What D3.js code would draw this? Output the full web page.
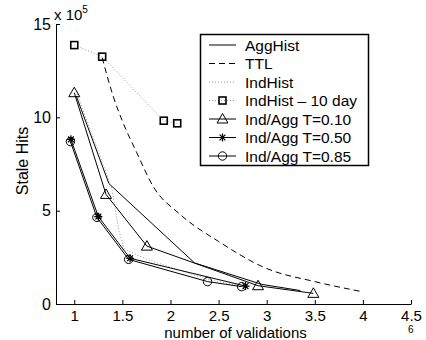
<!DOCTYPE html>
<html>
<head>
<meta charset="utf-8">
<script src="https://cdn.jsdelivr.net/npm/d3@7"></script>
<style>
  body { margin: 0; background: #fff; }
  svg text { font-family: "Liberation Sans", Arial, sans-serif; fill: #000; }
</style>
</head>
<body>
<div id="chart"></div>
<script>
// Stale hits vs number of validations
const xTicks = [1, 1.5, 2, 2.5, 3, 3.5, 4, 4.5];
const yTicks = [0, 5, 10, 15];

// values in units of 10^5
const aggHistX = [1.02, 1.36, 2.25, 2.95, 3.35];
const aggHistY = [11.15, 6.45, 2.2, 1.05, 0.72];

const ttlX = [1.29, 1.4, 1.5, 1.65, 1.82, 2.1, 2.5, 3.0, 3.5, 4.0];
const ttlY = [13.2, 11.2, 9.8, 8.1, 6.3, 4.8, 3.35, 1.9, 1.2, 0.65];

const indHistX = [1.02, 1.39, 1.46, 1.52, 1.75, 2.4, 2.75];
const indHistY = [11.4, 6.2, 4.0, 2.95, 2.4, 1.3, 0.95];

const ind10X = [1.0, 1.29, 1.93, 2.07];
const ind10Y = [13.87, 13.25, 9.82, 9.68];

const t10X = [1.0, 1.33, 1.755, 2.91, 3.485];
const t10Y = [11.32, 5.87, 3.1, 0.98, 0.57];

const t50X = [0.965, 1.25, 1.58, 2.78];
const t50Y = [8.82, 4.68, 2.45, 0.96];

const t85X = [0.96, 1.235, 1.565, 2.385, 2.74];
const t85Y = [8.7, 4.64, 2.39, 1.2, 0.93];

const series = [
  { name: "AggHist", xs: aggHistX, ys: aggHistY, color: "#000", dash: null, marker: null },
  { name: "TTL", xs: ttlX, ys: ttlY, color: "#000", dash: "6,4", marker: null, smooth: true },
  { name: "IndHist", xs: indHistX, ys: indHistY, color: "#999", dash: "1,2", marker: null },
  { name: "IndHist \u2013 10 day", xs: ind10X, ys: ind10Y, color: "#999", dash: "1,2", marker: "square" },
  { name: "Ind/Agg T=0.10", xs: t10X, ys: t10Y, color: "#000", dash: null, marker: "triangle" },
  { name: "Ind/Agg T=0.50", xs: t50X, ys: t50Y, color: "#000", dash: null, marker: "star" },
  { name: "Ind/Agg T=0.85", xs: t85X, ys: t85Y, color: "#000", dash: null, marker: "circle" }
];

const width = 426, height = 340;
const svg = d3.select("#chart").append("svg")
  .attr("width", width).attr("height", height);

const x = d3.scaleLinear().domain([0.81, 4.5]).range([56, 411]);
const y = d3.scaleLinear().domain([0, 15]).range([304, 24]);

// axes
const xAxis = svg.append("g")
  .attr("transform", `translate(0,${y(0)})`)
  .call(d3.axisBottom(x).tickValues(xTicks).tickFormat(d => String(d))
    .tickSizeInner(-4).tickSizeOuter(0).tickPadding(6));
const yAxis = svg.append("g")
  .attr("transform", `translate(${x(0.81)},0)`)
  .call(d3.axisLeft(y).tickValues(yTicks).tickFormat(d => String(d))
    .tickSizeInner(-4).tickSizeOuter(0).tickPadding(5));
[xAxis, yAxis].forEach(a => {
  a.selectAll("text").style("font-size", "15px").attr("fill", "#000");
  a.selectAll("line, path").attr("stroke", "#000");
  a.attr("font-family", null);
});
yAxis.selectAll("text").style("font-size", "16px");

// markers
function drawMarker(g, type, cx, cy) {
  if (type === "square") {
    g.append("rect").attr("x", cx - 3.5).attr("y", cy - 3.5)
      .attr("width", 7).attr("height", 7)
      .attr("fill", "none").attr("stroke", "#000").attr("stroke-width", 1.6);
  } else if (type === "triangle") {
    g.append("path").attr("d", `M${cx},${cy - 5.5}L${cx + 5.5},${cy + 4}L${cx - 5.5},${cy + 4}Z`)
      .attr("fill", "none").attr("stroke", "#000").attr("stroke-width", 1);
  } else if (type === "circle") {
    g.append("circle").attr("cx", cx).attr("cy", cy).attr("r", 4.2)
      .attr("fill", "none").attr("stroke", "#000").attr("stroke-width", 1);
  } else if (type === "star") {
    const r = 4, d = 2.9;
    g.append("path")
      .attr("d", `M${cx - r},${cy}L${cx + r},${cy}M${cx},${cy - r}L${cx},${cy + r}` +
        `M${cx - d},${cy - d}L${cx + d},${cy + d}M${cx - d},${cy + d}L${cx + d},${cy - d}`)
      .attr("stroke", "#000").attr("stroke-width", 1.2);
  }
}

series.forEach(s => {
  const pts = s.xs.map((v, i) => [v, s.ys[i]]);
  const line = d3.line().x(d => x(d[0])).y(d => y(d[1]))
    .curve(s.smooth ? d3.curveMonotoneX : d3.curveLinear);
  svg.append("path")
    .datum(pts)
    .attr("d", line)
    .attr("fill", "none")
    .attr("stroke", s.color)
    .attr("stroke-width", 1)
    .attr("stroke-dasharray", s.dash);
  if (s.marker) {
    const g = svg.append("g");
    pts.forEach(p => drawMarker(g, s.marker, x(p[0]), y(p[1])));
  }
});

// legend
const legend = svg.append("g");
legend.append("rect")
  .attr("x", 200.5).attr("y", 34.5).attr("width", 168).attr("height", 131)
  .attr("fill", "#fff").attr("stroke", "#000").attr("stroke-width", 1.5);
series.forEach((s, i) => {
  const ly = 45 + i * 18.5;
  legend.append("line")
    .attr("x1", 209).attr("x2", 236).attr("y1", ly).attr("y2", ly)
    .attr("stroke", s.color).attr("stroke-width", 1)
    .attr("stroke-dasharray", s.dash);
  if (s.marker) drawMarker(legend, s.marker, 222.5, ly);
  legend.append("text")
    .attr("x", 245).attr("y", ly).attr("dy", "0.36em")
    .style("font-size", "15.5px")
    .text(s.name);
});

// labels
svg.append("text")
  .attr("x", (56 + 411) / 2 + 2).attr("y", 338)
  .attr("text-anchor", "middle").style("font-size", "15px")
  .text("number of validations");
svg.append("text")
  .attr("transform", "translate(28,161) rotate(-90)")
  .attr("text-anchor", "middle").style("font-size", "16px")
  .text("Stale Hits");

const expo = svg.append("text").attr("x", 54).attr("y", 20).style("font-size", "15px");
expo.append("tspan").text("x 10");
expo.append("tspan").attr("dy", -7).style("font-size", "10px").text("5");

svg.append("text").attr("x", 408).attr("y", 333).style("font-size", "10px").text("6");
</script>
</body>
</html>
